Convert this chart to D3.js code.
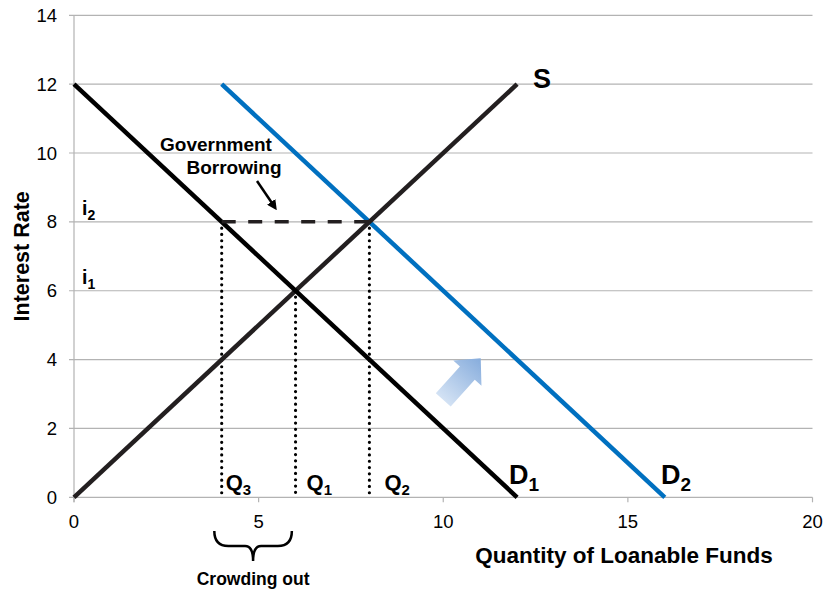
<!DOCTYPE html>
<html>
<head>
<meta charset="utf-8">
<script src="https://cdn.jsdelivr.net/npm/d3@7"></script>
<style>
  html, body { margin: 0; padding: 0; background: #fff; }
  svg { display: block; font-family: "Liberation Sans", Arial, sans-serif; }
</style>
</head>
<body>
<svg id="chart" width="823" height="591"></svg>
<script>
// ---- Data ----
const xTicks = [0, 5, 10, 15, 20];
const yTicks = [0, 2, 4, 6, 8, 10, 12, 14];
const supply = [[0, 0], [12, 12]];          // S
const demand1 = [[0, 12], [12, 0]];         // D1
const demand2 = [[4, 12], [16, 0]];         // D2
const govBorrow = [[4, 8], [8, 8]];         // dashed line at i2
const qDrops = [[4, 8], [6, 6], [8, 8]];    // Q3, Q1, Q2 dotted drops
const qLabels = [{x: 4, n: "3"}, {x: 6, n: "1"}, {x: 8, n: "2"}];
const iLabels = [{y: 8, n: "2"}, {y: 6, n: "1"}];
const shiftArrow = {x: 10, y: 2.83};
const crowdRange = [3.8, 5.9];

// layout offsets (pixels) for the Q labels
const qLabelDx = [4, 11, 15];

// ---- Scales ----
const svg = d3.select("#chart");
const x = d3.scaleLinear().domain([0, 20]).range([74, 812.5]);
const y = d3.scaleLinear().domain([0, 14]).range([497.3, 15.3]);
const line = d3.line().x(d => x(d[0])).y(d => y(d[1]));

// ---- Gridlines ----
svg.append("g").selectAll("line").data(yTicks).join("line")
  .attr("x1", x(0) - 5).attr("x2", x(20))
  .attr("y1", d => y(d)).attr("y2", d => y(d))
  .attr("stroke", "#b3b3b3").attr("stroke-width", 1.2);

// y axis line
svg.append("line").attr("x1", x(0)).attr("x2", x(0))
  .attr("y1", y(14)).attr("y2", y(0) + 5)
  .attr("stroke", "#b3b3b3").attr("stroke-width", 1.2);

// x ticks
svg.append("g").selectAll("line").data(xTicks).join("line")
  .attr("x1", d => x(d)).attr("x2", d => x(d))
  .attr("y1", y(0)).attr("y2", y(0) + 5)
  .attr("stroke", "#b3b3b3").attr("stroke-width", 1.2);

// tick labels
svg.append("g").selectAll("text").data(yTicks).join("text")
  .attr("x", 57).attr("y", d => y(d) + 6.5)
  .attr("text-anchor", "end").attr("font-size", 18.5).attr("fill", "#000")
  .text(d => d);
svg.append("g").selectAll("text").data(xTicks).join("text")
  .attr("x", d => x(d)).attr("y", y(0) + 31)
  .attr("text-anchor", "middle").attr("font-size", 18.5).attr("fill", "#000")
  .text(d => d);

// axis titles
svg.append("text")
  .attr("transform", `translate(29,${(y(0) + y(14)) / 2}) rotate(-90)`)
  .attr("text-anchor", "middle").attr("font-size", 21.5).attr("font-weight", "bold")
  .text("Interest Rate");
svg.append("text")
  .attr("x", 624).attr("y", 563)
  .attr("text-anchor", "middle").attr("font-size", 22.5).attr("font-weight", "bold")
  .text("Quantity of Loanable Funds");

// ---- Dotted drops ----
svg.append("g").selectAll("line").data(qDrops).join("line")
  .attr("x1", d => x(d[0])).attr("x2", d => x(d[0]))
  .attr("y1", d => y(d[1])).attr("y2", y(0))
  .attr("stroke", "#000").attr("stroke-width", 3.2)
  .attr("stroke-linecap", "round").attr("stroke-dasharray", "0,6.3");

// ---- Curves ----
svg.append("path").datum(demand2).attr("d", line)
  .attr("fill", "none").attr("stroke", "#0070c0").attr("stroke-width", 4.5);
svg.append("path").datum(supply).attr("d", line)
  .attr("fill", "none").attr("stroke", "#231f20").attr("stroke-width", 4.5);
svg.append("path").datum(demand1).attr("d", line)
  .attr("fill", "none").attr("stroke", "#000").attr("stroke-width", 4.5);

// dashed gov borrowing
svg.append("path").datum(govBorrow).attr("d", line)
  .attr("fill", "none").attr("stroke", "#231f20").attr("stroke-width", 3.5)
  .attr("stroke-dasharray", "14,12.5");

// ---- Labels ----
function subLabel(g, px, py, main, sub, size, subSize, subDy) {
  const t = g.append("text").attr("x", px).attr("y", py)
    .attr("font-weight", "bold").attr("font-size", size).attr("fill", "#000");
  t.append("tspan").text(main);
  t.append("tspan").attr("font-size", subSize).attr("dy", subDy).text(sub);
}
const lg = svg.append("g");
qLabels.forEach((d, i) => subLabel(lg, x(d.x) + qLabelDx[i], y(0) - 7, "Q", d.n, 22, 15, 5));
iLabels.forEach(d => subLabel(lg, 82, y(d.y) - 7, "i", d.n, 19.5, 14, 5));
subLabel(lg, 509, y(0) - 13, "D", "1", 27, 19, 7);
subLabel(lg, 661, y(0) - 13, "D", "2", 27, 19, 7);
lg.append("text").attr("x", 533).attr("y", y(12) + 4)
  .attr("font-weight", "bold").attr("font-size", 27).text("S");

// Government Borrowing
lg.append("text").attr("x", 216).attr("y", 151).attr("text-anchor", "middle")
  .attr("font-weight", "bold").attr("font-size", 19).text("Government");
lg.append("text").attr("x", 234).attr("y", 174).attr("text-anchor", "middle")
  .attr("font-weight", "bold").attr("font-size", 19).text("Borrowing");

// pointer arrow
const defs = svg.append("defs");
defs.append("marker").attr("id", "ah").attr("viewBox", "0 0 10 10")
  .attr("refX", 5).attr("refY", 5).attr("markerWidth", 4).attr("markerHeight", 4)
  .attr("orient", "auto").attr("markerUnits", "strokeWidth")
  .append("path").attr("d", "M0,0 L10,5 L0,10 Z").attr("fill", "#000");
svg.append("line").attr("x1", 257).attr("y1", 181).attr("x2", 274).attr("y2", 206)
  .attr("stroke", "#000").attr("stroke-width", 2.5).attr("marker-end", "url(#ah)");

// Shift arrow (block arrow)
const grad = defs.append("linearGradient").attr("id", "ag")
  .attr("x1", "0").attr("y1", "0").attr("x2", "1").attr("y2", "0");
grad.append("stop").attr("offset", "0").attr("stop-color", "#d3e2f4");
grad.append("stop").attr("offset", "1").attr("stop-color", "#86acdc");
svg.append("path")
  .attr("d", "M0,-10 L36,-10 L36,-19 L56,0 L36,19 L36,10 L0,10 Z")
  .attr("transform", `translate(${x(shiftArrow.x)},${y(shiftArrow.y)}) rotate(-48)`)
  .attr("fill", "url(#ag)");

// Crowding out brace
const bx0 = x(crowdRange[0]), bx1 = x(crowdRange[1]);
const bm = (bx0 + bx1) / 2, by = 531;
const brace = `M${bx0},${by} Q${bx0},${by + 15} ${bx0 + 14},${by + 15} L${bm - 8},${by + 15} Q${bm},${by + 15} ${bm},${by + 30} Q${bm},${by + 15} ${bm + 8},${by + 15} L${bx1 - 14},${by + 15} Q${bx1},${by + 15} ${bx1},${by}`;
svg.append("path").attr("d", brace).attr("fill", "none")
  .attr("stroke", "#000").attr("stroke-width", 2.5);
svg.append("text").attr("x", bm).attr("y", 585).attr("text-anchor", "middle")
  .attr("font-weight", "bold").attr("font-size", 17.5).text("Crowding out");
</script>
</body>
</html>
